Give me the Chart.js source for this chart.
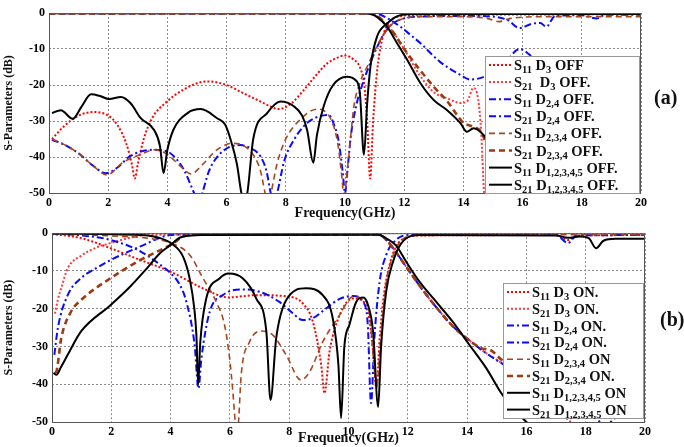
<!DOCTYPE html>
<html>
<head>
<meta charset="utf-8">
<script src="https://cdn.jsdelivr.net/npm/chart.js@4"></script>
<style>
  html, body { margin: 0; padding: 0; background: #fff; }
  #wrap { position: relative; width: 684px; height: 447px; overflow: hidden; }
  canvas { position: absolute; left: 0; }
  .tag { position: absolute; font: bold 20px "Liberation Serif", serif; color: #111; }
</style>
</head>
<body>
<div id="wrap">
  <canvas id="chartA" width="684" height="222" style="top:0"></canvas>
  <canvas id="chartB" width="684" height="225" style="top:222px"></canvas>
  <div class="tag" style="left:654px;top:86px">(a)</div>
  <div class="tag" style="left:660px;top:308px">(b)</div>
</div>
<script>
// axis ticks
const freqTicks = [0, 2, 4, 6, 8, 10, 12, 14, 16, 18, 20];
const dbTicks = [0, -10, -20, -30, -40, -50];

// ---- (a) diodes OFF : [GHz, dB] ----
const aS11D3 = [[0.1,-35],[0.5,-31.5],[1.0,-28.5],[1.5,-27.5],[2.0,-28.5],[2.3,-31],[2.6,-36],[2.8,-42],[2.9,-46],[3.0,-42],[3.2,-35],[3.5,-29],[4.0,-24.5],[4.5,-21.5],[5.0,-19.5],[5.35,-19],[6.0,-20],[6.5,-22],[7.0,-24],[7.5,-26],[7.75,-26.7],[8.2,-25],[8.6,-21.5],[9.0,-17.5],[9.4,-14],[9.8,-12.2],[10.0,-11.8],[10.3,-13],[10.5,-15],[10.65,-20],[10.75,-30],[10.85,-46],[10.95,-30],[11.1,-15],[11.3,-6],[11.5,-2.5],[11.8,-1],[12.5,-0.5],[16,-0.4],[20,-0.3]];
const aS21D3 = [[0,-0.1],[5,-0.1],[10.8,-0.1],[11.0,-0.5],[11.3,-2.5],[11.6,-5],[12.0,-10],[12.5,-17],[13.0,-22],[13.45,-23.7],[13.9,-25],[14.12,-24.6],[14.34,-20.8],[14.5,-24],[14.6,-33],[14.7,-50],[14.8,-56]];
const aS11D24 = [[0.1,-35.2],[0.5,-36.5],[1.0,-39],[1.5,-42.5],[1.92,-44.5],[2.3,-43],[2.7,-40],[3.1,-38.5],[3.5,-38],[4.0,-38.5],[4.3,-40.5],[4.56,-43.6],[4.9,-50],[5.05,-53],[5.18,-50],[5.4,-44],[5.69,-39.9],[6.1,-37.2],[6.47,-36.7],[6.8,-37.5],[7.15,-39.9],[7.35,-44],[7.49,-50],[7.6,-53],[7.71,-50],[7.95,-41],[8.27,-35.3],[8.6,-31.5],[8.95,-29.3],[9.45,-28.3],[9.65,-31.5],[9.78,-35.3],[9.92,-44],[10.0,-50],[10.08,-44],[10.2,-34],[10.4,-25],[10.6,-19.5],[10.8,-15],[11.0,-11],[11.3,-6],[11.6,-3],[12.0,-1.5],[12.5,-1],[14.0,-0.8],[15.0,-1],[15.5,-2],[15.9,-4.2],[16.3,-3],[16.6,-2.8],[16.8,-3.8],[17.1,-0.8],[18.0,-0.6],[18.5,-1.5],[18.8,-0.5],[20,-0.5]];
const aS21D24 = [[0,-0.1],[5,-0.1],[10.9,-0.1],[11.2,-0.5],[11.5,-1.8],[11.87,-3.8],[12.2,-6],[12.55,-8.4],[13.2,-13.5],[13.9,-17.2],[14.23,-18.5],[14.67,-17.8],[15.3,-15],[15.9,-10],[16.3,-12],[17.5,-20],[20,-26]];
const aS11D234 = [[0.1,-35],[0.5,-36.5],[1.0,-39],[1.5,-42.5],[1.95,-45],[2.5,-41.5],[3.1,-39.3],[3.55,-38],[4.0,-39.3],[4.5,-43],[4.79,-44.7],[5.2,-42],[5.6,-38.5],[6.0,-36.5],[6.2,-36.2],[6.6,-37],[6.95,-40],[7.15,-44],[7.3,-50],[7.4,-53],[7.5,-50],[7.7,-42],[8.0,-35],[8.5,-29.5],[9.06,-26.7],[9.3,-27.2],[9.55,-30],[9.75,-36],[9.9,-46],[9.97,-52],[10.05,-46],[10.15,-38],[10.3,-26],[10.5,-19.5],[10.8,-14],[11.0,-10.5],[11.3,-6],[11.6,-3],[12.0,-1.5],[12.5,-1],[14.0,-1],[14.8,-1.5],[15.2,-2.4],[15.6,-1.5],[17,-1],[20,-1]];
const aS21D234 = [[0,-0.1],[5,-0.1],[10.9,-0.1],[11.2,-1.5],[11.6,-5],[12.0,-10],[12.5,-15.5],[13.0,-20.5],[13.5,-25],[13.8,-28.5],[14.0,-30.5],[14.3,-31.5],[14.6,-33],[14.75,-36],[15.0,-44],[15.5,-51],[18.3,-51],[19.0,-50],[19.5,-48.5],[20,-45]];
const aS11D12345 = [[0.1,-27.8],[0.4,-27],[0.8,-29.4],[1.1,-26],[1.42,-22.6],[1.7,-23],[2.03,-23.9],[2.43,-23.3],[2.75,-25],[3.1,-29.2],[3.55,-32.5],[3.75,-37],[3.87,-44.5],[4.0,-38],[4.2,-32.5],[4.68,-27.8],[5.13,-26.7],[5.69,-29.3],[5.95,-31],[6.14,-35.3],[6.35,-42],[6.5,-50],[6.6,-52],[6.7,-50],[6.9,-35],[7.37,-27.8],[7.82,-24.6],[8.27,-25.9],[8.55,-28.5],[8.72,-32.5],[8.93,-41.6],[9.05,-34],[9.28,-25.9],[9.6,-20],[10.07,-17.7],[10.35,-18.6],[10.5,-22],[10.64,-39.4],[10.75,-25],[10.86,-14.9],[11.08,-6.6],[11.42,-2.9],[11.87,-0.6],[12.5,-0.3],[20,-0.3]];
const aS21D12345 = [[0,-0.1],[5,-0.1],[10.6,-0.1],[10.86,-0.3],[11.1,-1.2],[11.42,-3.8],[11.76,-8.4],[12.1,-13],[12.55,-19.5],[13.0,-24.2],[13.45,-27],[13.9,-30.6],[14.12,-33],[14.34,-32],[14.67,-33.8],[15.0,-38],[16,-48],[17,-50],[20,-52]];

// ---- (b) diodes ON : [GHz, dB] ----
const bS11D3 = [[0,-0.2],[0.98,-1.3],[1.98,-4],[2.98,-7.1],[4.0,-10.2],[5.09,-14.6],[5.96,-17],[6.9,-16.4],[7.98,-16.8],[8.46,-18.6],[8.8,-23.5],[9.08,-34.9],[9.19,-42.4],[9.36,-31.4],[9.7,-21.7],[10.15,-17.3],[10.37,-17.5],[10.7,-22.6],[10.85,-33],[10.94,-41],[11.05,-28],[11.2,-16],[11.4,-8],[11.6,-3.6],[11.9,-1.3],[12.5,-0.6],[17.0,-0.5],[17.4,-1.8],[17.7,-0.6],[20,-0.5]];
const bS21D3 = [[0.1,-21.3],[0.2,-17.5],[0.31,-14.6],[0.53,-9.3],[0.98,-6],[1.5,-3.8],[1.98,-2.6],[3.2,-0.5],[6,-0.3],[11.0,-0.3],[11.3,-2],[11.6,-5],[12.0,-9.5],[12.5,-15],[13.0,-20],[13.5,-24.5],[14.08,-28.4],[14.65,-31.8],[15.2,-34.6],[16.0,-40],[17.5,-50],[18,-53]];
const bS11D24 = [[0,-0.1],[1.0,-0.6],[1.98,-1.8],[2.98,-4.8],[3.64,-8.3],[4.0,-10.6],[4.3,-13.5],[4.53,-18.1],[4.81,-29.6],[4.94,-41.1],[5.04,-33.1],[5.32,-20.8],[5.76,-16.4],[6.44,-14.9],[7.0,-15.5],[7.67,-18.2],[8.12,-21.2],[8.46,-23],[8.8,-22.5],[9.25,-19.9],[9.7,-17.4],[10.15,-16.6],[10.49,-18.2],[10.65,-24.3],[10.76,-45],[10.88,-27],[11.05,-12.9],[11.27,-5.8],[11.6,-1.8],[12.0,-0.5],[17.0,-0.5],[17.4,-2.6],[17.7,-0.6],[20,-0.5]];
const bS21D24 = [[0.08,-32.2],[0.2,-25],[0.53,-16.4],[0.98,-11.9],[1.5,-9.2],[1.98,-7.1],[2.98,-3.5],[4.0,-0.5],[5.0,-0.3],[11.0,-0.3],[11.3,-2],[11.6,-5],[12.0,-9.5],[12.5,-15],[13.0,-20],[13.5,-24.5],[14.08,-28.4],[14.65,-31.8],[15.2,-34.6],[16.5,-40],[18.3,-48],[18.6,-51],[19.0,-49],[20,-44]];
const bS11D234 = [[0,-0.1],[1.9,-0.7],[3.2,-1.3],[4.0,-2.6],[4.64,-5.7],[5.09,-11.9],[5.54,-18.2],[5.82,-24.3],[5.99,-33.1],[6.1,-42],[6.18,-50],[6.23,-53],[6.29,-50],[6.38,-37.6],[6.66,-28.8],[7.06,-25.9],[7.45,-27],[7.9,-32.3],[8.4,-38.9],[8.69,-36.7],[9.13,-28.8],[9.7,-21.7],[10.15,-16.8],[10.49,-17.5],[10.7,-21],[10.88,-37],[10.94,-41],[11.1,-27],[11.27,-13.3],[11.5,-6],[11.8,-1.8],[12.3,-0.6],[20,-0.4]];
const bS21D234 = [[0.1,-37],[0.15,-36.6],[0.31,-27.9],[0.64,-20.8],[0.98,-17.7],[1.98,-11.9],[2.98,-7.1],[4.0,-3.1],[4.6,-0.4],[5.2,-0.3],[11.0,-0.3],[11.3,-2],[11.6,-5],[12.0,-9.5],[12.5,-15],[13.0,-20],[13.5,-24.5],[14.08,-28.4],[14.5,-30.5],[14.8,-31],[15.2,-33.7],[16.5,-36],[18,-38],[20,-37.5]];
const bS11D12345 = [[0,-0.1],[3.0,-0.5],[3.6,-1.2],[4.0,-2.6],[4.42,-6.2],[4.64,-11.9],[4.8,-20],[4.87,-27],[4.93,-40],[5.0,-29],[5.2,-17.4],[5.65,-12],[5.96,-10.7],[6.44,-12],[6.89,-17.3],[7.23,-26.1],[7.37,-44.2],[7.56,-27.9],[7.9,-17.7],[8.57,-14.6],[9.13,-16.4],[9.47,-22.6],[9.66,-34.9],[9.75,-49],[9.86,-30],[10.03,-24.3],[10.26,-18.2],[10.5,-17],[10.65,-18.8],[10.83,-26.1],[11.0,-46],[11.1,-30],[11.27,-15.5],[11.5,-7.6],[11.78,-2.7],[12.4,-0.5],[17.0,-0.6],[17.4,-1.2],[17.8,-0.9],[18.1,-1.3],[18.35,-4],[18.6,-2],[19.0,-1.5],[20,-1.5]];
const bS21D12345 = [[0.05,-37],[0.15,-37.5],[0.3,-35.5],[0.53,-32.2],[0.98,-26],[1.98,-19],[2.64,-14.1],[3.2,-9.3],[3.64,-5.3],[4.0,-3.1],[4.3,-1.2],[4.7,-0.6],[5.0,-0.5],[11.0,-0.4],[11.3,-1.5],[11.6,-3.2],[11.95,-7.6],[12.4,-12.9],[12.96,-18.2],[13.52,-23.5],[14.08,-29.6],[14.65,-35.8],[15.2,-42.9],[16.0,-50],[17,-56]];

const labelsA = ['S_{11} D_{3} OFF', 'S_{21}  D_{3} OFF.', 'S_{11} D_{2,4} OFF.', 'S_{21} D_{2,4} OFF.', 'S_{11} D_{2,3,4} OFF.', 'S_{21} D_{2,3,4} OFF.', 'S_{11} D_{1,2,3,4,5} OFF.', 'S_{21} D_{1,2,3,4,5} OFF.'];
const labelsB = ['S_{11} D_{3} ON.', 'S_{21} D_{3} ON.', 'S_{11} D_{2,4} ON.', 'S_{21} D_{2,4} ON.', 'S_{11} D_{2,3,4} ON', 'S_{21} D_{2,3,4} ON.', 'S_{11} D_{1,2,3,4,5} ON', 'S_{21} D_{1,2,3,4,5} ON'];

// line styles, in legend order
const styles = [
    { color: '#ff0000', width: 2, dash: [2, 2] },
    { color: '#ff3a3a', width: 2, dash: [2, 2] },
    { color: '#0a0aff', width: 2, dash: [7, 3, 2, 3] },
    { color: '#0a0aff', width: 2, dash: [7, 3, 2, 3] },
    { color: '#a8461e', width: 1.6, dash: [6, 4] },
    { color: '#9e3a10', width: 2.6, dash: [6, 4] },
    { color: '#000000', width: 2, dash: [] },
    { color: '#000000', width: 2, dash: [] }
];

const SERIF = '"Liberation Serif", "DejaVu Serif", serif';

function makeDatasets(series, labels) {
    return series.map((pts, i) => ({
        label: labels[i],
        data: pts.map(p => ({ x: p[0], y: p[1] })),
        borderColor: styles[i].color,
        borderWidth: styles[i].width,
        borderDash: styles[i].dash,
        pointRadius: 0,
        fill: false,
        cubicInterpolationMode: 'monotone',
        order: 8 - i
    }));
}

// frame around the plot area
const framePlugin = {
    id: 'frame',
    afterDatasetsDraw(chart) {
        const a = chart.chartArea, ctx = chart.ctx;
        ctx.save();
        ctx.strokeStyle = '#555';
        ctx.lineWidth = 1;
        ctx.strokeRect(a.left + 0.5, a.top + 0.5, a.right - a.left - 1, a.bottom - a.top);
        ctx.restore();
    }
};

// legend box with subscripts
const boxLegend = {
    id: 'boxLegend',
    afterDraw(chart, args, opts) {
        const ctx = chart.ctx;
        const sets = chart.data.datasets;
        ctx.save();
        ctx.fillStyle = '#fff';
        ctx.fillRect(opts.x, opts.y, opts.w, opts.h);
        ctx.strokeStyle = '#999';
        ctx.lineWidth = 1;
        ctx.strokeRect(opts.x + 0.5, opts.y + 0.5, opts.w, opts.h);
        sets.forEach((ds, i) => {
            const cy = opts.y + opts.first + i * opts.row;
            ctx.beginPath();
            ctx.strokeStyle = ds.borderColor;
            ctx.lineWidth = ds.borderWidth;
            ctx.setLineDash(ds.borderDash);
            ctx.moveTo(opts.x + 4, cy);
            ctx.lineTo(opts.x + 27, cy);
            ctx.stroke();
            ctx.setLineDash([]);
            // text parts: even = normal, odd = subscript
            const parts = ds.label.split(/_\{([^}]*)\}/);
            let tx = opts.x + 29;
            ctx.fillStyle = '#111';
            ctx.textBaseline = 'alphabetic';
            parts.forEach((t, k) => {
                if (!t) return;
                if (k % 2) {
                    ctx.font = 'bold 10.5px ' + SERIF;
                    ctx.fillText(t, tx, cy + 8);
                } else {
                    ctx.font = 'bold 14.5px ' + SERIF;
                    ctx.fillText(t, tx, cy + 5);
                }
                tx += ctx.measureText(t).width;
            });
        });
        ctx.restore();
    }
};

function makeChart(id, series, labels, geo) {
    new Chart(document.getElementById(id), {
        type: 'line',
        data: { datasets: makeDatasets(series, labels) },
        options: {
            responsive: false,
            animation: false,
            layout: { padding: { top: geo.top, right: geo.right, left: 0, bottom: 0 } },
            plugins: {
                legend: { display: false },
                tooltip: { enabled: false },
                boxLegend: geo.legend
            },
            scales: {
                x: {
                    type: 'linear',
                    min: 0, max: 20,
                    afterBuildTicks: s => { s.ticks = freqTicks.map(v => ({ value: v })); },
                    afterFit: s => { s.height = geo.xh; },
                    grid: { color: '#8c8c8c', lineWidth: 1, drawTicks: false },
                    border: { display: false, dash: [2, 2] },
                    ticks: { color: '#000', padding: 3, maxRotation: 0, font: { family: SERIF, size: 12, weight: 'bold' } },
                    title: { display: true, text: 'Frequency(GHz)', color: '#111', padding: 0, font: { family: SERIF, size: 14, weight: 'bold' } }
                },
                y: {
                    min: -50, max: 0,
                    afterBuildTicks: s => { s.ticks = dbTicks.map(v => ({ value: v })); },
                    afterFit: s => { s.width = geo.yw; },
                    grid: { color: '#8c8c8c', lineWidth: 1, drawTicks: false },
                    border: { display: false, dash: [2, 2] },
                    ticks: { color: '#000', padding: 4, font: { family: SERIF, size: 12, weight: 'bold' } },
                    title: { display: true, text: 'S-Parameters (dB)', color: '#111', padding: 2, font: { family: SERIF, size: 12, weight: 'bold' } }
                }
            }
        },
        plugins: [framePlugin, boxLegend]
    });
}

makeChart('chartA',
    [aS11D3, aS21D3, aS11D24, aS21D24, aS11D234, aS21D234, aS11D12345, aS21D12345],
    labelsA,
    { top: 13, right: 43, yw: 49, xh: 29,
      legend: { x: 485, y: 56, w: 154, h: 137, first: 9, row: 17.1 } });

makeChart('chartB',
    [bS11D3, bS21D3, bS11D24, bS21D24, bS11D234, bS21D234, bS11D12345, bS21D12345],
    labelsB,
    { top: 11, right: 39, yw: 52, xh: 25,
      legend: { x: 503, y: 61, w: 140, h: 135, first: 9, row: 16.8 } });
</script>
</body>
</html>
